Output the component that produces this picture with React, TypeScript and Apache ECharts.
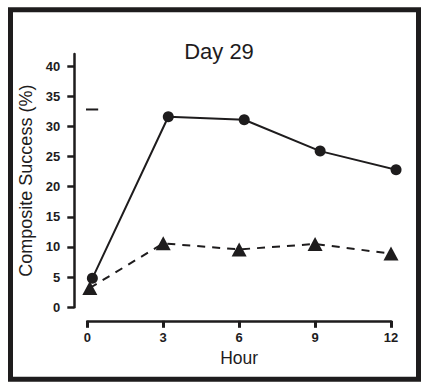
import React, { useEffect, useRef } from "react";
import * as echarts from "echarts";

const title = "Day 29";
const xName = "Hour";
const yName = "Composite Success (%)";
const xTicks = [0, 3, 6, 9, 12];
const yTicks = [0, 5, 10, 15, 20, 25, 30, 35, 40];

const circleHours = [0.2, 3.2, 6.2, 9.2, 12.2];
const circleValues = [4.8, 31.6, 31.1, 25.9, 22.8];

const triangleHours = [0.1, 3, 6, 9, 12];
const triangleValues = [3.2, 10.6, 9.6, 10.5, 8.9];

const dashHours = [-0.16, 0.43];
const dashValues = [32.8, 32.8];

const INK = "#1e1c1d";
const FONT = "Liberation Sans, Arial, Helvetica, sans-serif";

export default function App() {
  const ref = useRef<HTMLDivElement>(null);
  useEffect(() => {
    if (!ref.current) return;
    const chart = echarts.init(ref.current, null, { renderer: "svg" });
    const zip = (xs: number[], ys: number[]) => xs.map((x, i) => [x, ys[i]]);
    chart.setOption({
      animation: false,
      backgroundColor: "#ffffff",
      textStyle: { fontFamily: FONT },
      title: {
        text: title,
        left: 214,
        textAlign: "center",
        top: 35,
        textStyle: { fontSize: 22, fontWeight: "normal", color: INK, fontFamily: FONT },
      },
      graphic: [
        {
          type: "rect",
          shape: { x: 10.5, y: 9.8, width: 408, height: 369.5 },
          style: { fill: "none", stroke: INK, lineWidth: 5 },
          silent: true,
        },
      ],
      grid: { left: 87.3, right: 44, top: 54, bottom: 83.7 },
      xAxis: {
        type: "value",
        min: 0,
        max: 12,
        interval: 3,
        offset: 13.5,
        name: xName,
        nameLocation: "middle",
        nameGap: 28,
        nameTextStyle: { fontSize: 17.5, color: INK, fontFamily: FONT },
        axisLine: { show: true, onZero: false, lineStyle: { color: INK, width: 2.5 } },
        axisTick: { show: true, length: 7, lineStyle: { color: INK, width: 3 }, customValues: xTicks },
        axisLabel: { color: INK, fontSize: 13, fontWeight: "bold", margin: 10, customValues: xTicks },
        splitLine: { show: false },
      },
      yAxis: {
        type: "value",
        min: 0,
        max: 42,
        offset: 13,
        name: yName,
        nameLocation: "middle",
        nameGap: 24,
        nameTextStyle: { fontSize: 18, color: INK, fontFamily: FONT },
        axisLine: { show: true, onZero: false, lineStyle: { color: INK, width: 2.5 } },
        axisTick: { show: true, length: 7, lineStyle: { color: INK, width: 2.5 }, customValues: yTicks },
        axisLabel: { color: INK, fontSize: 13, fontWeight: "bold", margin: 14, customValues: yTicks },
        splitLine: { show: false },
      },
      series: [
        {
          type: "line",
          data: zip(triangleHours, triangleValues),
          symbol: "triangle",
          symbolSize: [15, 14],
          clip: false,
          lineStyle: { color: INK, width: 2, type: [8, 7] },
          itemStyle: { color: INK, borderWidth: 0 },
          z: 3,
        },
        {
          type: "line",
          data: zip(circleHours, circleValues),
          symbol: "circle",
          symbolSize: 11,
          clip: false,
          lineStyle: { color: INK, width: 2 },
          itemStyle: { color: INK, borderWidth: 0 },
          z: 4,
        },
        {
          type: "line",
          data: zip(dashHours, dashValues),
          symbol: "none",
          clip: false,
          lineStyle: { color: INK, width: 2 },
          z: 2,
        },
      ],
    });
    return () => chart.dispose();
  }, []);
  return (
    <div
      ref={ref}
      style={{ position: "fixed", left: 0, top: 0, width: 435, height: 391 }}
    />
  );
}
